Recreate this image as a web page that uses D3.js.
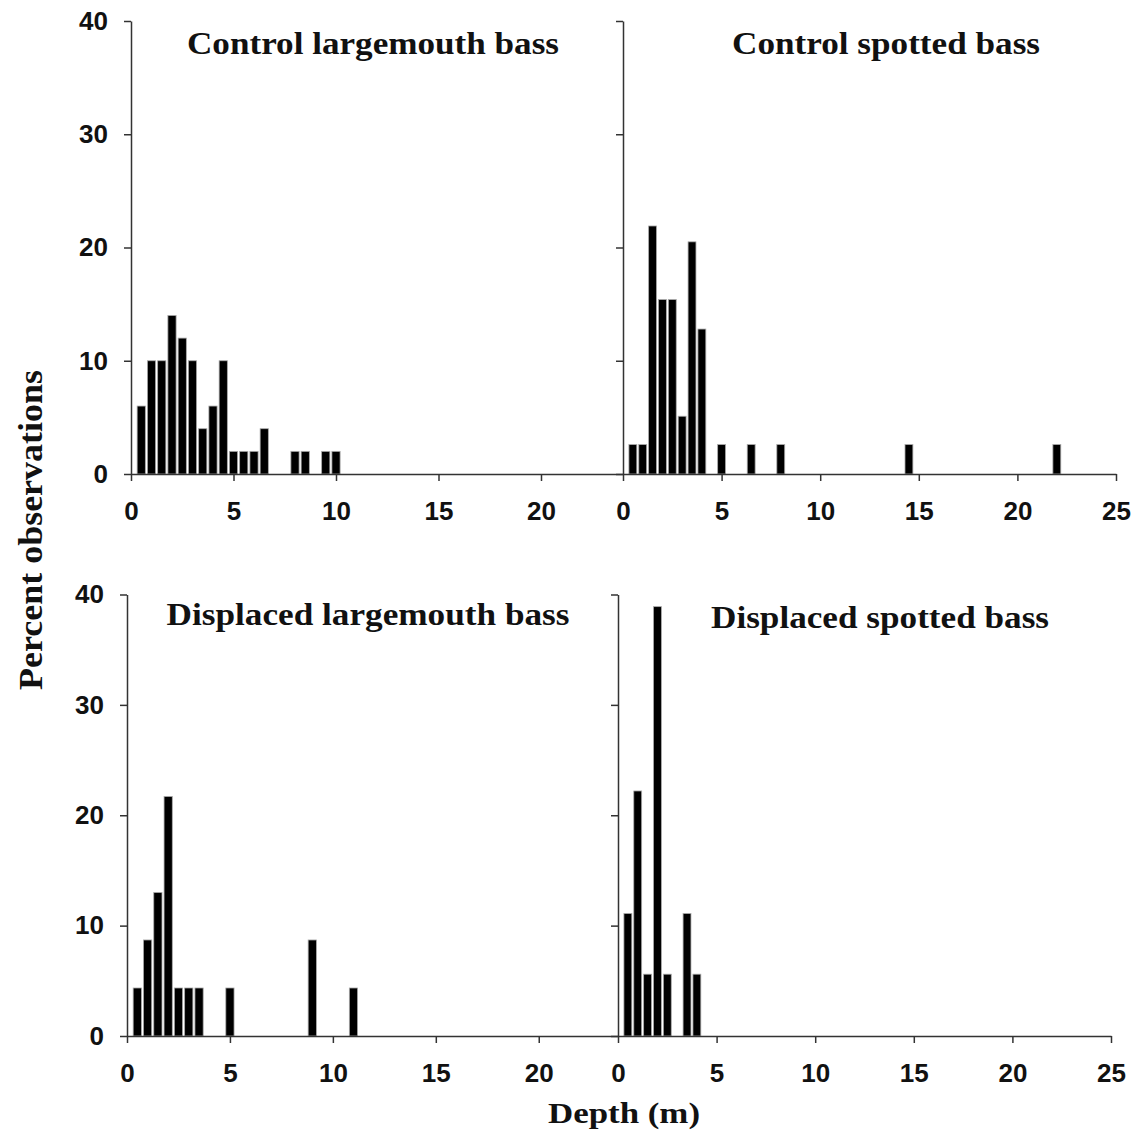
<!DOCTYPE html>
<html>
<head>
<meta charset="utf-8">
<script src="https://cdn.jsdelivr.net/npm/d3@7"></script>
<style>
  html, body { margin: 0; padding: 0; background: #fff; }
  svg { display: block; }
  .tick text { font-family: "Liberation Sans", Arial, sans-serif; font-weight: bold; font-size: 26px; fill: #111; }
  .domain, .tick line { stroke: #333; stroke-width: 1.5px; }
  .title { font-family: "Liberation Serif", "Times New Roman", serif; font-weight: bold; fill: #111; }
</style>
</head>
<body>
<svg id="chart" width="1141" height="1140"></svg>
<script>
// Depth bins (m) and percent of observations for each group
const depthCtrlLMB = [0.5, 1, 1.5, 2, 2.5, 3, 3.5, 4, 4.5, 5, 5.5, 6, 6.5, 8, 8.5, 9.5, 10];
const pctCtrlLMB   = [6, 10, 10, 14, 12, 10, 4, 6, 10, 2, 2, 2, 4, 2, 2, 2, 2];

const depthCtrlSPB = [0.5, 1, 1.5, 2, 2.5, 3, 3.5, 4, 5, 6.5, 8, 14.5, 22];
const pctCtrlSPB   = [2.6, 2.6, 21.9, 15.4, 15.4, 5.1, 20.5, 12.8, 2.6, 2.6, 2.6, 2.6, 2.6];

const depthDispLMB = [0.5, 1, 1.5, 2, 2.5, 3, 3.5, 5, 9, 11];
const pctDispLMB   = [4.35, 8.7, 13.0, 21.7, 4.35, 4.35, 4.35, 4.35, 8.7, 4.35];

const depthDispSPB = [0.5, 1, 1.5, 2, 2.5, 3.5, 4];
const pctDispSPB   = [11.1, 22.2, 5.6, 38.9, 5.6, 11.1, 5.6];

const panelTitles = ["Control largemouth bass", "Control spotted bass",
                     "Displaced largemouth bass", "Displaced spotted bass"];
const yTicks = [0, 10, 20, 30, 40];
const xTicksLeft = [0, 5, 10, 15, 20];
const xTicksRight = [0, 5, 10, 15, 20, 25];
const yAxisTitle = "Percent observations";
const xAxisTitle = "Depth (m)";

const BAR_W = 0.4; // bar width in metres

const svg = d3.select("#chart");

// Panel layout: pixel frames and axis extents
const panels = [
  { depth: depthCtrlLMB, pct: pctCtrlLMB, title: panelTitles[0], xr: [131, 623], xmax: 24,    yr: [474, 21],     ticks: xTicksLeft,  labels: true,  tx: 373, ty: 54,  tw: 372 },
  { depth: depthCtrlSPB, pct: pctCtrlSPB, title: panelTitles[1], xr: [623, 1116], xmax: 25,   yr: [474, 21],     ticks: xTicksRight, labels: false, tx: 886, ty: 54,  tw: 308 },
  { depth: depthDispLMB, pct: pctDispLMB, title: panelTitles[2], xr: [127, 618], xmax: 23.85, yr: [1036, 594.5], ticks: xTicksLeft,  labels: true,  tx: 368, ty: 625, tw: 403 },
  { depth: depthDispSPB, pct: pctDispSPB, title: panelTitles[3], xr: [618, 1111], xmax: 25,   yr: [1036, 594.5], ticks: xTicksRight, labels: false, tx: 880, ty: 628, tw: 338 }
];

panels.forEach(p => {
  const x = d3.scaleLinear().domain([0, p.xmax]).range(p.xr);
  const y = d3.scaleLinear().domain([0, 40]).range(p.yr);
  const g = svg.append("g");

  // bars
  const rows = p.depth.map((d, i) => ({ d, v: p.pct[i] }));
  g.selectAll("rect.bar").data(rows).enter().append("rect")
    .attr("class", "bar")
    .attr("x", r => x(r.d - BAR_W / 2))
    .attr("width", r => x(r.d + BAR_W / 2) - x(r.d - BAR_W / 2))
    .attr("y", r => y(r.v))
    .attr("height", r => y(0) - y(r.v))
    .attr("fill", "#000")
    .attr("stroke", "#aaa")
    .attr("stroke-width", 0.8);

  // x axis
  g.append("g")
    .attr("transform", `translate(0,${p.yr[0]})`)
    .call(d3.axisBottom(x).tickValues(p.ticks).tickSize(7).tickSizeOuter(0).tickPadding(21));

  // y axis
  g.append("g")
    .attr("transform", `translate(${p.xr[0]},0)`)
    .call(d3.axisLeft(y).tickValues(yTicks).tickSize(7).tickSizeOuter(0).tickPadding(16)
      .tickFormat(p.labels ? d3.format("d") : () => ""));

  // panel title
  g.append("text")
    .attr("class", "title")
    .attr("x", p.tx).attr("y", p.ty)
    .attr("text-anchor", "middle")
    .style("font-size", "32px")
    .attr("textLength", p.tw)
    .attr("lengthAdjust", "spacingAndGlyphs")
    .text(p.title);
});

// shared axis titles
svg.append("text")
  .attr("class", "title")
  .attr("transform", "translate(42,530) rotate(-90)")
  .attr("text-anchor", "middle")
  .style("font-size", "34px")
  .attr("textLength", 320)
  .attr("lengthAdjust", "spacingAndGlyphs")
  .text(yAxisTitle);

svg.append("text")
  .attr("class", "title")
  .attr("x", 624).attr("y", 1123)
  .attr("text-anchor", "middle")
  .style("font-size", "30px")
  .attr("textLength", 152)
  .attr("lengthAdjust", "spacingAndGlyphs")
  .text(xAxisTitle);
</script>
</body>
</html>
